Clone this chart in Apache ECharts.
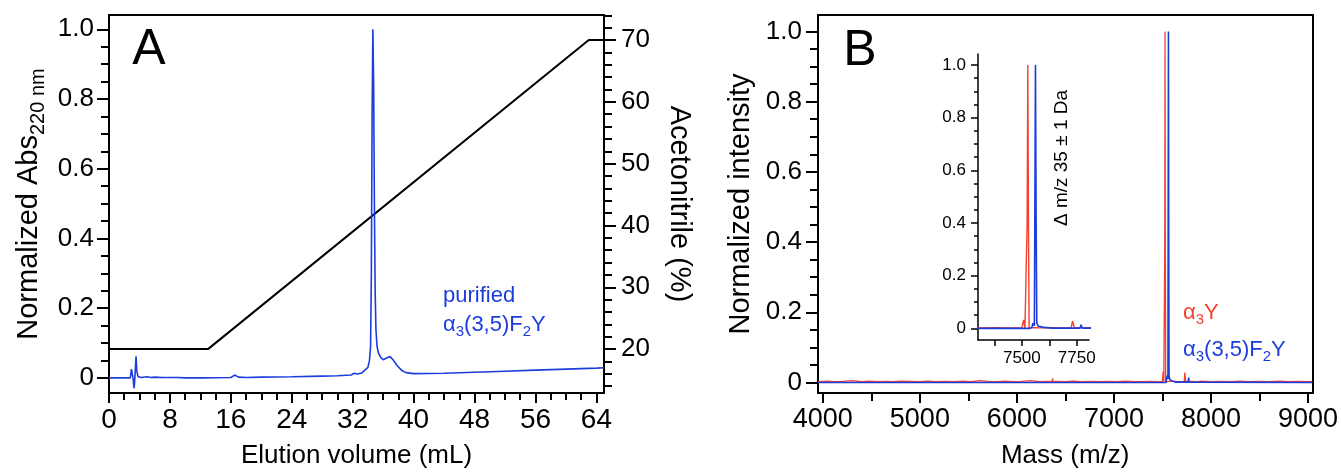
<!DOCTYPE html>
<html><head><meta charset="utf-8">
<script src="https://cdn.jsdelivr.net/npm/echarts@6/dist/echarts.min.js"></script>
<style>html,body{margin:0;padding:0;background:#fff}#c{width:1341px;height:474px}</style>
</head><body><div id="c"></div>
<script>
// ---------- Panel A: HPLC chromatogram ----------
const volA = [0, 2.8, 2.95, 3.05, 3.15, 3.3, 3.4, 3.55, 3.65, 3.8, 4.2, 5, 5.5, 6, 7, 9, 10, 12, 16, 16.5, 17, 18, 20, 24, 28, 30, 31.8, 32.2, 32.6, 33.2, 33.6, 34.0, 34.2, 34.35, 34.45, 34.55, 34.65, 34.75, 34.85, 34.95, 35.05, 35.2, 35.4, 35.7, 36.0, 36.4, 36.9, 37.3, 37.8, 38.4, 39.0, 40, 44, 48, 52, 56, 60, 64, 65];
const absA = [0, 0, 0.025, 0.03, 0.0, -0.03, 0.0, 0.062, 0.02, 0.004, 0.001, 0.003, 0.001, 0.002, 0.001, 0.001, 0.0, 0.0, 0.001, 0.008, 0.002, 0.001, 0.002, 0.003, 0.005, 0.006, 0.008, 0.013, 0.011, 0.014, 0.022, 0.03, 0.05, 0.09, 0.3, 0.75, 1.0, 0.85, 0.5, 0.25, 0.14, 0.09, 0.07, 0.058, 0.052, 0.056, 0.061, 0.052, 0.036, 0.022, 0.015, 0.012, 0.013, 0.016, 0.019, 0.022, 0.025, 0.028, 0.029];
const gradVol = [0, 13, 63, 65];
const gradAcn = [20, 20, 70, 70];
const volTicks = [0, 8, 16, 24, 32, 40, 48, 56, 64];
const volMinor = [2, 4, 6, 10, 12, 14, 18, 20, 22, 26, 28, 30, 34, 36, 38, 42, 44, 46, 50, 52, 54, 58, 60, 62];
const absTicks = [0, 0.2, 0.4, 0.6, 0.8, 1.0];
const absMinor = [0.05, 0.1, 0.15, 0.25, 0.3, 0.35, 0.45, 0.5, 0.55, 0.65, 0.7, 0.75, 0.85, 0.9, 0.95];
const acnTicks = [20, 30, 40, 50, 60, 70];
const acnMinor = [14, 16, 18, 22, 24, 26, 28, 32, 34, 36, 38, 42, 44, 46, 48, 52, 54, 56, 58, 62, 64, 66, 68, 72, 74];

// ---------- Panel B: mass spectra ----------
const redMass = [3950, 4050, 4120, 4200, 4310, 4400, 4480, 4560, 4650, 4720, 4810, 4900, 5000, 5080, 5170, 5260, 5350, 5440, 5530, 5620, 5700, 5790, 5880, 5960, 6050, 6140, 6230, 6320, 6362, 6368, 6374, 6400, 6490, 6580, 6670, 6760, 6850, 6940, 7030, 7120, 7210, 7300, 7380, 7450, 7500, 7505, 7508, 7511, 7514, 7521, 7524, 7527, 7530, 7533, 7545, 7560, 7580, 7620, 7680, 7725, 7731, 7735, 7739, 7745, 7800, 7850, 7900, 8000, 8100, 8200, 8300, 8400, 8500, 8600, 8700, 8800, 8900, 9000, 9045];
const redInt  = [0.002, 0.004, 0.002, 0.003, 0.005, 0.002, 0.004, 0.002, 0.003, 0.002, 0.004, 0.003, 0.002, 0.004, 0.002, 0.003, 0.002, 0.004, 0.002, 0.005, 0.003, 0.002, 0.004, 0.002, 0.003, 0.005, 0.002, 0.003, 0.002, 0.012, 0.002, 0.003, 0.002, 0.004, 0.002, 0.003, 0.002, 0.003, 0.002, 0.004, 0.002, 0.002, 0.003, 0.002, 0.002, 0.002, 0.032, 0.03, 0.002, 0.002, 0.4, 1.0, 0.4, 0.001, 0.002, 0.003, 0.002, 0.003, 0.002, 0.003, 0.028, 0.03, 0.003, 0.002, 0.003, 0.002, 0.004, 0.002, 0.003, 0.002, 0.004, 0.002, 0.003, 0.002, 0.004, 0.002, 0.003, 0.002, 0.002];
const blueMass = [3950, 7535, 7546, 7550, 7554, 7557, 7559, 7562, 7565, 7568, 7575, 7600, 7640, 7765, 7770, 7775, 9045];
const blueInt  = [0, 0, 0.004, 0.02, 0.022, 0.01, 0.4, 1.0, 0.4, 0.02, 0.008, 0.004, 0.001, 0.001, 0.014, 0.001, 0];
const massTicks = [4000, 5000, 6000, 7000, 8000, 9000];
const massMinor = [4500, 5500, 6500, 7500, 8500];
const intTicks = [0, 0.2, 0.4, 0.6, 0.8, 1.0];
const intMinor = [0.05, 0.1, 0.15, 0.25, 0.3, 0.35, 0.45, 0.5, 0.55, 0.65, 0.7, 0.75, 0.85, 0.9, 0.95];
const insetMassTicks = [7375, 7500, 7625, 7750];
const insetMassLabels = [7500, 7750];

const F = '"Liberation Sans", Arial, Helvetica, sans-serif';
const K = '#000';
const BLUE = '#1c3ddc';
const RED = '#f4402c';
const zip = (a, b) => a.map((v, i) => [v, b[i]]);
const fmt1 = v => (v === 0 ? '0' : v.toFixed(1));
const fmt0 = v => String(Math.round(v));

function ax(o) {
  const base = {
    type: 'value', splitLine: {show: false},
    axisLine: {show: true, onZero: false, lineStyle: {color: K, width: 2}},
    axisTick: {show: false},
    axisLabel: {show: false},
  };
  return Object.assign(base, o);
}
function ticks(vals, len, w) {
  return {show: true, inside: false, length: len, customValues: vals, lineStyle: {color: K, width: w || 2}};
}
function labels(vals, size, margin, formatter) {
  return {show: true, customValues: vals, fontSize: size, fontFamily: F, color: K, margin: margin, formatter: formatter || fmt0};
}

const xAxis = [
  // Panel A
  ax({gridIndex: 0, min: 0, max: 65, position: 'bottom', axisTick: ticks(volTicks, 10), axisLabel: labels(volTicks, 28, 13),
      name: 'Elution volume (mL)', nameLocation: 'middle', nameGap: 50, nameTextStyle: {fontSize: 26, fontFamily: F, color: K}}),
  ax({gridIndex: 0, min: 0, max: 65, position: 'bottom', axisTick: ticks(volMinor, 7)}),
  ax({gridIndex: 0, min: 0, max: 65, position: 'top'}),
  // Panel B
  ax({gridIndex: 1, min: 3950, max: 9045, position: 'bottom', axisTick: ticks(massTicks, 10), axisLabel: labels(massTicks, 27, 13),
      name: 'Mass (m/z)', nameLocation: 'middle', nameGap: 50, nameTextStyle: {fontSize: 26, fontFamily: F, color: K}}),
  ax({gridIndex: 1, min: 3950, max: 9045, position: 'bottom', axisTick: ticks(massMinor, 8)}),
  ax({gridIndex: 1, min: 3950, max: 9045, position: 'top'}),
  // Inset
  ax({gridIndex: 2, min: 7300, max: 7806, position: 'bottom', axisLine: {show: true, onZero: false, lineStyle: {color: K, width: 1.5}},
      axisTick: ticks(insetMassTicks, 6, 1.5), axisLabel: labels(insetMassLabels, 17, 10)}),
];

const yAxis = [
  // Panel A left
  ax({gridIndex: 0, min: -0.0435, max: 1.041, position: 'left', axisTick: ticks(absTicks, 12), axisLabel: labels(absTicks, 26, 15, fmt1),
      name: '{n|Normalized Abs}{s|220 nm}', nameLocation: 'middle', nameGap: 63,
      nameTextStyle: {fontFamily: F, color: K, rich: {
        n: {fontSize: 29, fontFamily: F, color: K, lineHeight: 32, verticalAlign: 'top'},
        s: {fontSize: 20, fontFamily: F, color: K, lineHeight: 22, verticalAlign: 'top', padding: [14, 0, 0, 0]}}}}),
  ax({gridIndex: 0, min: -0.0435, max: 1.041, position: 'left', axisTick: ticks(absMinor, 8)}),
  // Panel A right
  ax({gridIndex: 0, min: 12.9, max: 74.05, position: 'right', axisTick: ticks(acnTicks, 12), axisLabel: labels(acnTicks, 26, 17),
      name: 'Acetonitrile (%)', nameLocation: 'middle', nameGap: 60, nameRotate: -90,
      nameTextStyle: {fontSize: 29, fontFamily: F, color: K}}),
  ax({gridIndex: 0, min: 12.9, max: 74.05, position: 'right', axisTick: ticks(acnMinor, 8)}),
  // Panel B left
  ax({gridIndex: 1, min: -0.030, max: 1.047, position: 'left', axisTick: ticks(intTicks, 12), axisLabel: labels(intTicks, 26, 16, fmt1),
      name: 'Normalized intensity', nameLocation: 'middle', nameGap: 63,
      nameTextStyle: {fontSize: 29, fontFamily: F, color: K}}),
  ax({gridIndex: 1, min: -0.030, max: 1.047, position: 'left', axisTick: ticks(intMinor, 8)}),
  ax({gridIndex: 1, min: -0.030, max: 1.047, position: 'right'}),
  // Inset
  ax({gridIndex: 2, min: -0.044, max: 1.042, position: 'left', axisLine: {show: true, onZero: false, lineStyle: {color: K, width: 1.5}},
      axisTick: ticks(intTicks, 7, 1.5), axisLabel: labels(intTicks, 17, 12, fmt1)}),
  ax({gridIndex: 2, min: -0.044, max: 1.042, position: 'left', axisLine: {show: false}, axisTick: ticks(intMinor, 4, 1.5)}),
];

const lineS = (xi, yi, data, color, w) => ({
  type: 'line', xAxisIndex: xi, yAxisIndex: yi, data: data, showSymbol: false, symbol: 'none',
  lineStyle: {color: color, width: w}, itemStyle: {color: color}, clip: true, silent: true, animation: false
});

const series = [
  lineS(0, 2, zip(gradVol, gradAcn), K, 2),
  lineS(0, 0, zip(volA, absA), BLUE, 1.6),
  lineS(3, 4, zip(redMass, redInt), RED, 1.3),
  lineS(3, 4, zip(blueMass, blueInt), BLUE, 1.6),
  lineS(6, 7, zip(redMass, redInt), RED, 1.4),
  lineS(6, 7, zip(blueMass, blueInt), BLUE, 1.6),
];

const sub = (main, subSize) => ({
  m: {fontFamily: F, fontSize: main, lineHeight: main + 3, verticalAlign: 'top'},
  s: {fontFamily: F, fontSize: subSize, lineHeight: subSize + 2, verticalAlign: 'top', padding: [Math.round(main * 0.45), 0, 0, 0]}
});
const alphaLabel = '{m|α}{s|3}{m|(3,5)F}{s|2}{m|Y}';

const graphic = [
  {type: 'text', x: 149, y: 50, style: {text: 'A', font: '50px ' + F, fill: K, align: 'center', verticalAlign: 'middle'}},
  {type: 'text', x: 860, y: 51, style: {text: 'B', font: '50px ' + F, fill: K, align: 'center', verticalAlign: 'middle'}},
  {type: 'text', x: 443, y: 296, style: {text: 'purified', font: '22px ' + F, fill: BLUE, align: 'left', verticalAlign: 'middle'}},
  {type: 'text', x: 443, y: 314, style: {text: alphaLabel, rich: sub(22, 15), fill: BLUE, align: 'left', verticalAlign: 'top'}},
  {type: 'text', x: 1183, y: 302, style: {text: '{m|α}{s|3}{m|Y}', rich: sub(22, 15), fill: RED, align: 'left', verticalAlign: 'top'}},
  {type: 'text', x: 1183, y: 339, style: {text: alphaLabel, rich: sub(22, 15), fill: BLUE, align: 'left', verticalAlign: 'top'}},
  {type: 'text', x: 1062, y: 158, rotation: Math.PI / 2, style: {text: 'Δ m/z 35 ± 1 Da', font: '19px ' + F, fill: K, align: 'center', verticalAlign: 'middle'}},
];

const chart = echarts.init(document.getElementById('c'), null, {renderer: 'canvas'});
chart.setOption({
  animation: false,
  backgroundColor: '#fff',
  grid: [
    {left: 109, top: 15, width: 495, height: 381, containLabel: false},
    {left: 818, top: 15, width: 495, height: 380, containLabel: false},
    {left: 978, top: 54, width: 111, height: 286, containLabel: false},
  ],
  xAxis: xAxis,
  yAxis: yAxis,
  series: series,
  graphic: graphic,
});
</script></body></html>
